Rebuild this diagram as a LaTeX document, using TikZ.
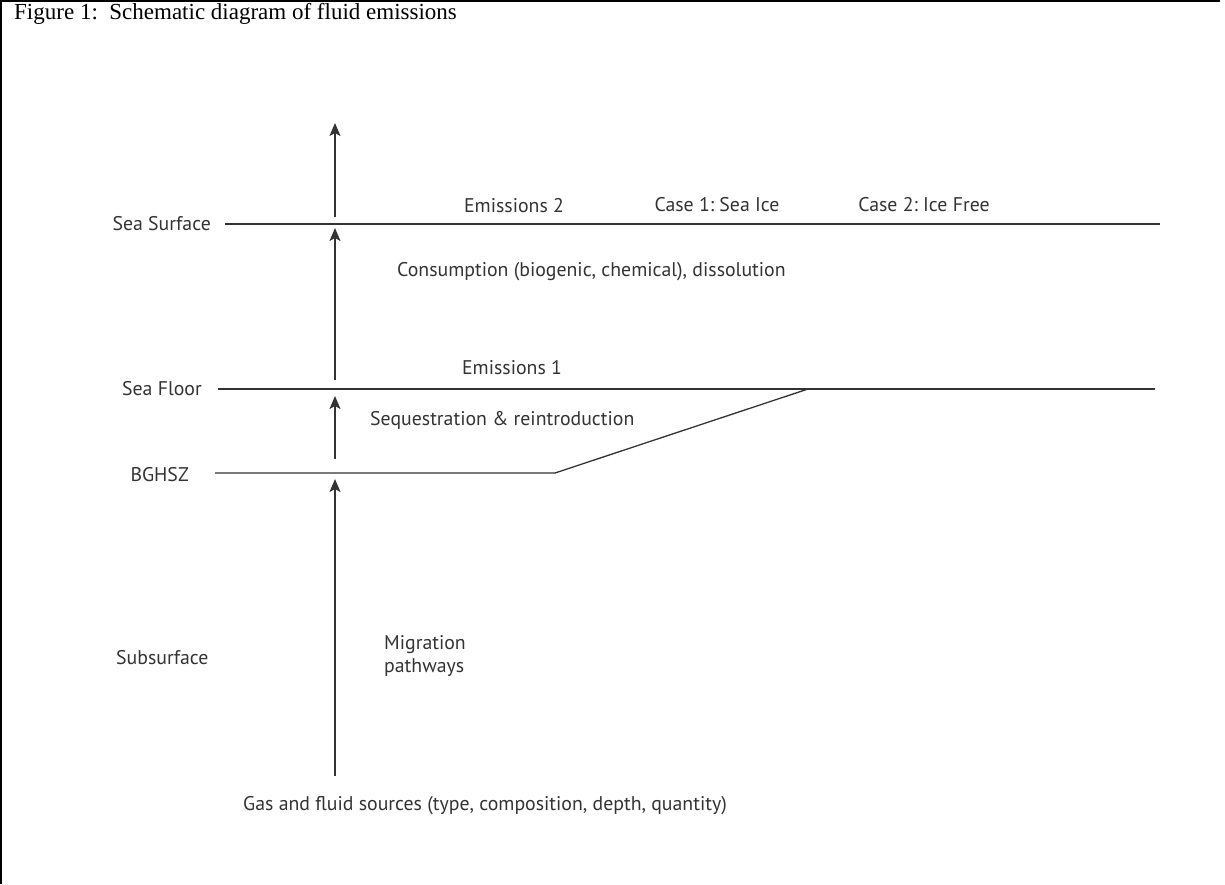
\documentclass[tikz,border=0pt]{standalone}
\usepackage{fontspec}
\setmainfont{Liberation Serif}
\newfontfamily\lblfont{PT Sans}
\usetikzlibrary{arrows.meta}
\begin{document}
\begin{tikzpicture}[x=1pt,y=-1pt,
  lbl/.style={font=\lblfont\fontsize{19.8}{23}\selectfont, text=black!80, inner sep=0pt},
  level/.style={draw=black!80, line width=1.3pt},
  up/.style={draw=black!80, line width=1.4pt, -{Stealth[length=13pt,width=11pt,inset=3pt]}}]
\useasboundingbox (0,0) rectangle (1225,884);
\draw[line width=2pt] (1220,1) -- (1,1) -- (1,884);
\node[anchor=base west, inner sep=0pt, font=\fontsize{23}{26}\selectfont] (title) at (14,19) {Figure 1:\ \ Schematic diagram of fluid emissions};
% levels
\coordinate (ssL) at (225,224); \coordinate (ssR) at (1160,224);
\coordinate (sfL) at (218,389); \coordinate (sfR) at (1155,389);
\coordinate (bgL) at (215,473); \coordinate (bgK) at (555,473); \coordinate (sfK) at (808,389);
\draw[level] (ssL) -- (ssR);
\draw[level] (sfL) -- (sfR);
\draw[level] (bgL) -- (bgK) -- (sfK);
% arrows
\coordinate (a1s) at (335,217); \coordinate (a1e) at (335,123);
\coordinate (a2s) at (335,380); \coordinate (a2e) at (335,228);
\coordinate (a3s) at (335,459); \coordinate (a3e) at (335,396);
\coordinate (a4s) at (335,776); \coordinate (a4e) at (335,479);
\draw[up] (a1s) -- (a1e);
\draw[up] (a2s) -- (a2e);
\draw[up] (a3s) -- (a3e);
\draw[up] (a4s) -- (a4e);
% labels
\node[lbl, anchor=east] (ss) at (211,224) {Sea Surface};
\node[lbl, anchor=east] (sf) at (202,389) {Sea Floor};
\node[lbl, anchor=east] (bg) at (189,475) {BGHSZ};
\node[lbl, anchor=west] (sub) at (116,658) {Subsurface};
\node[lbl] (em2) at (514,206) {Emissions 2};
\node[lbl] (c1) at (717,205) {Case 1:\ Sea Ice};
\node[lbl] (c2) at (924,205) {Case 2:\ Ice Free};
\node[lbl, anchor=west] (cons) at (397,272) {Consumption (biogenic, chemical), dissolution};
\node[lbl] (em1) at (512,368) {Emissions 1};
\node[lbl, anchor=west] (seq) at (370,420) {Sequestration \& reintroduction};
\node[lbl, anchor=west, align=left] (mig) at (384,656) {Migration\\pathways};
\node[lbl, anchor=west] (gas) at (243,806) {Gas and fluid sources (type, composition, depth, quantity)};
\end{tikzpicture}
\end{document}
